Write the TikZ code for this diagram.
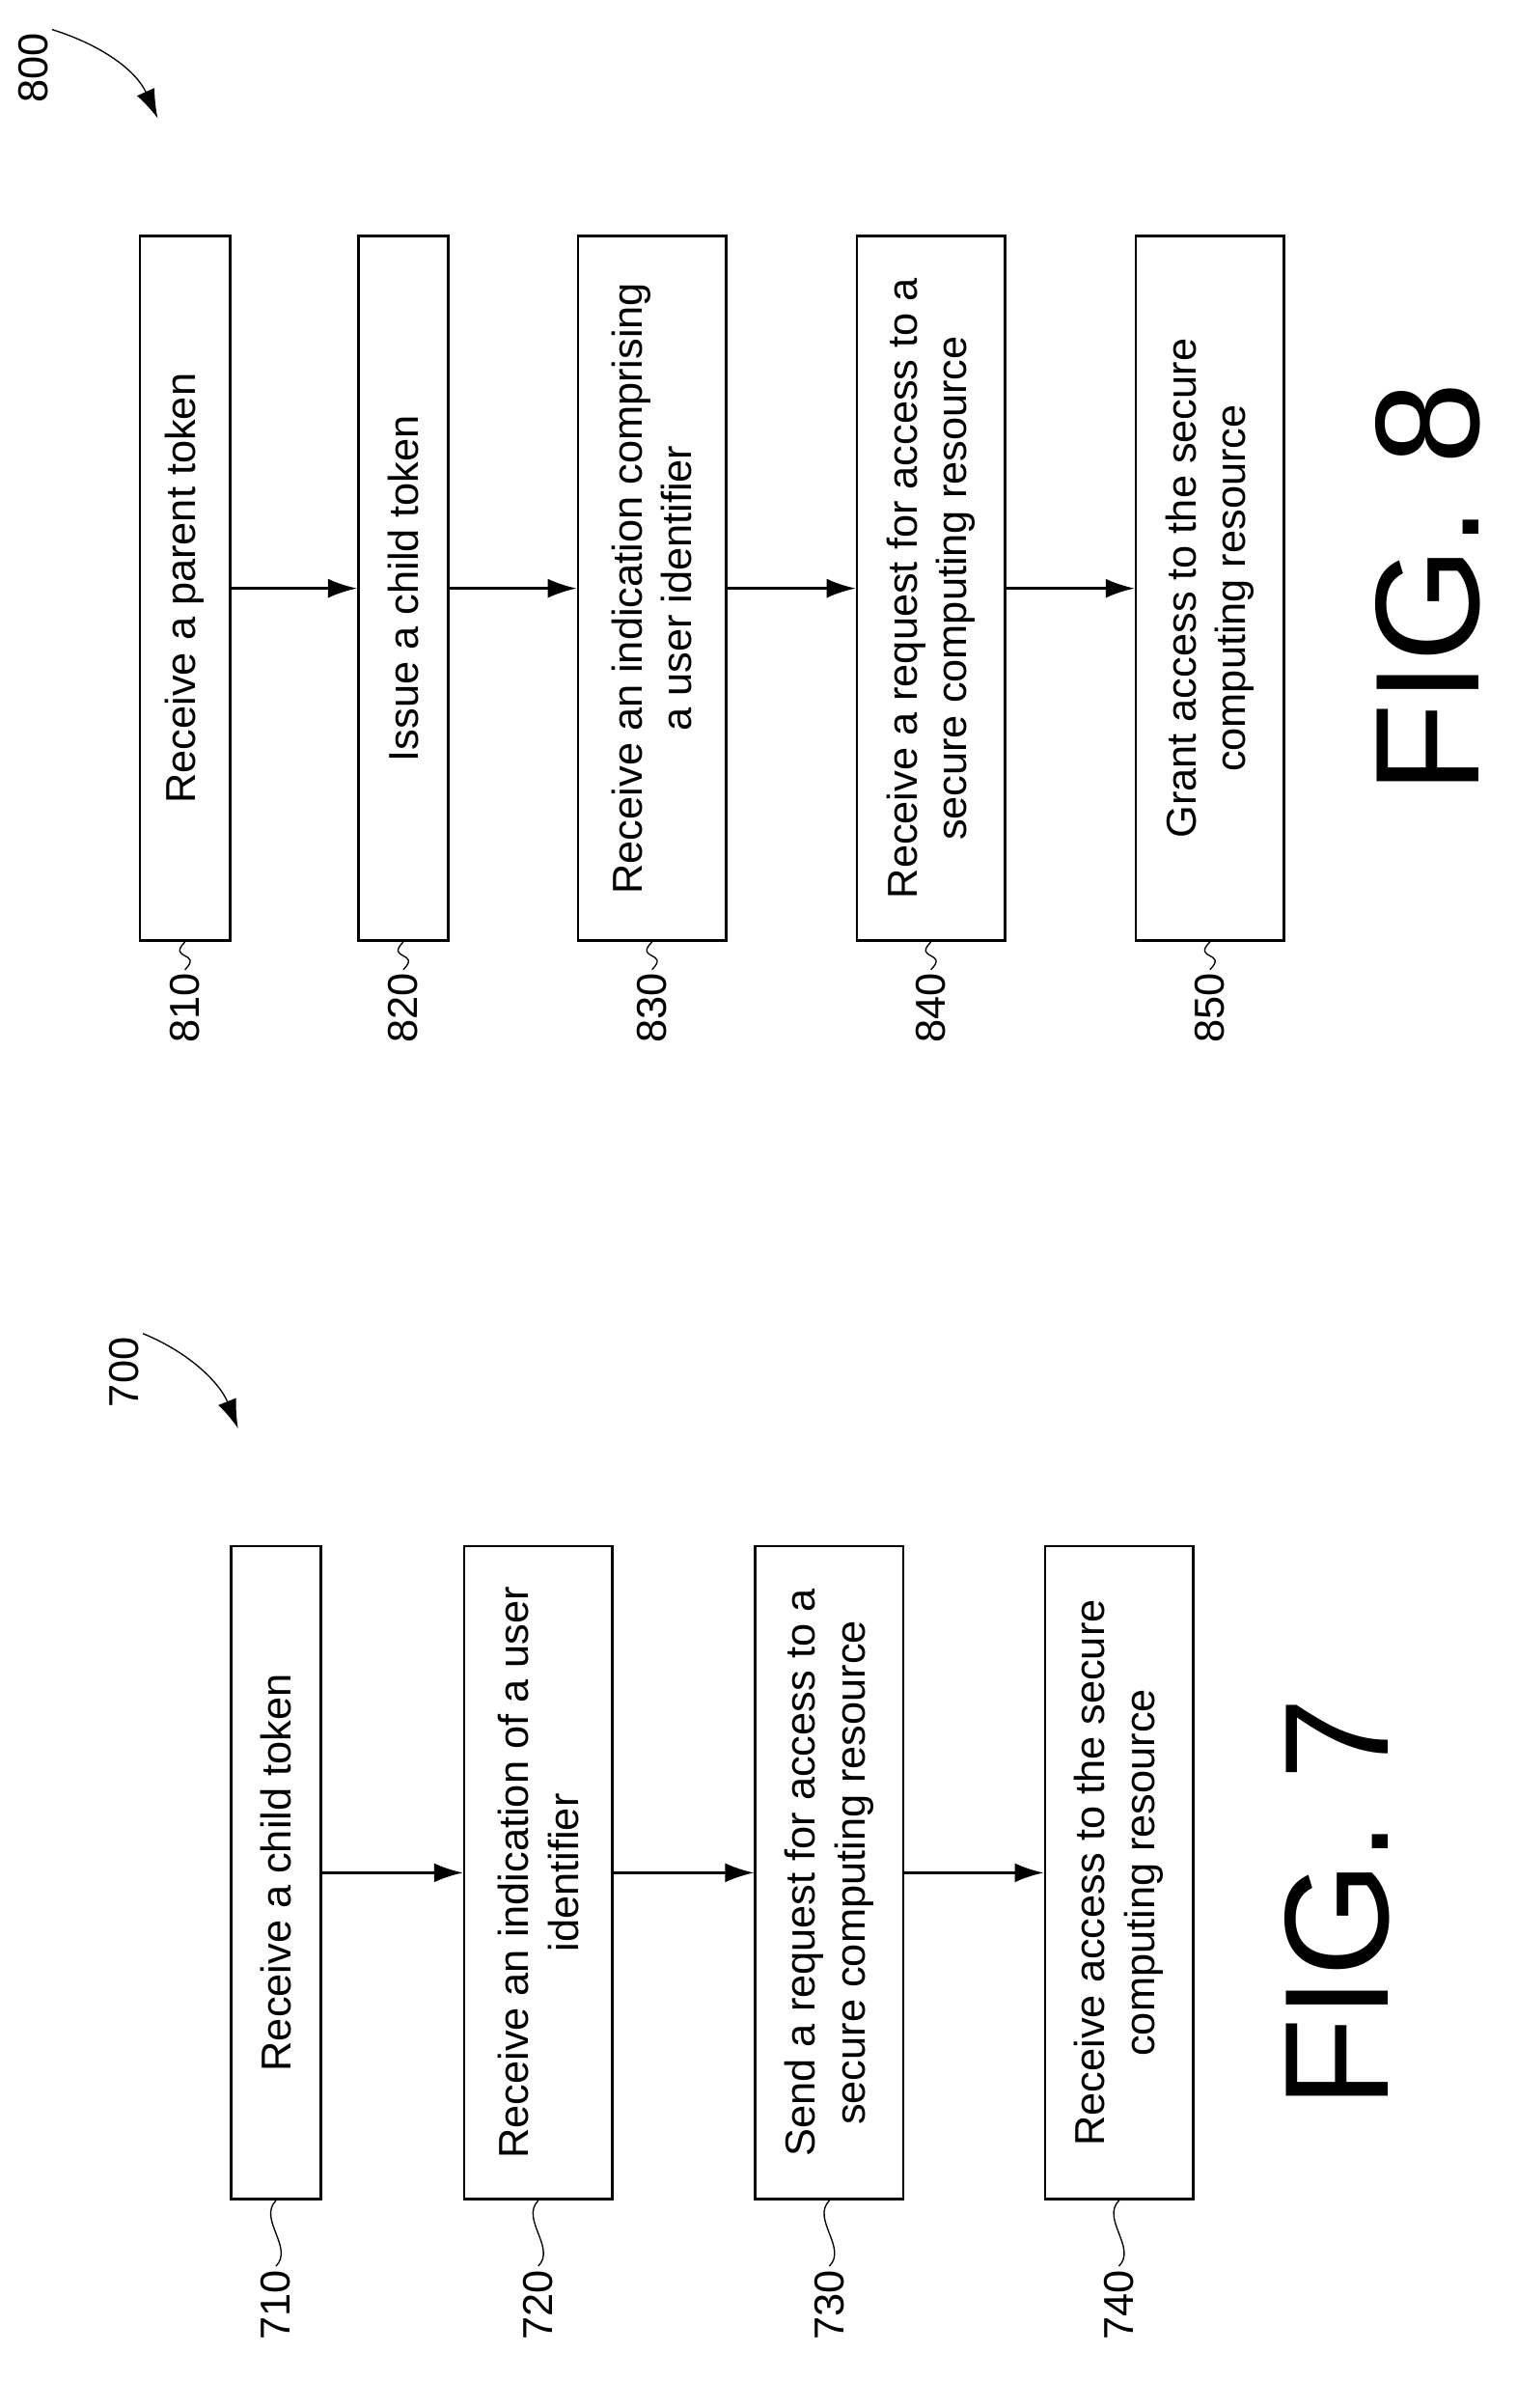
\documentclass[tikz,border=0pt]{standalone}
\usepackage{fontspec}
\setmainfont{Liberation Sans}
\usetikzlibrary{arrows.meta,positioning}
\begin{document}
\begin{tikzpicture}[
    x=0.4713pt, y=-0.4713pt,
    stepbox/.style={rectangle, draw, thick, rotate=90, align=center, font=\fontsize{13}{15.5}\selectfont, inner sep=2pt},
    ref/.style={rotate=90, font=\fontsize{13}{15.5}\selectfont, inner sep=1pt},
    arrow/.style={-{Latex[length=9pt,width=6pt]}, thick},
    wave/.style={thin},
    fig/.style={rotate=90, font=\fontsize{46}{54}\selectfont}
]
\useasboundingbox (0,0) rectangle (1000,1588);

% FIG. 7
\node[stepbox, minimum width=203pt, minimum height=28pt] (s710) at (182,1235) {Receive a child token};
\node[stepbox, minimum width=203pt, minimum height=46pt] (s720) at (355,1235) {Receive an indication of a user\\identifier};
\node[stepbox, minimum width=203pt, minimum height=46pt] (s730) at (547,1235) {Send a request for access to a\\secure computing resource};
\node[stepbox, minimum width=203pt, minimum height=46pt] (s740) at (738,1235) {Receive access to the secure\\computing resource};

\draw[arrow] (s710) -- (s720);
\draw[arrow] (s720) -- (s730);
\draw[arrow] (s730) -- (s740);

\node[ref] (r710) at (182,1520) {710};
\node[ref] (r720) at (355,1520) {720};
\node[ref] (r730) at (547,1520) {730};
\node[ref] (r740) at (738,1520) {740};
\draw[wave] (r710.east) .. controls +(12,-12) and +(-12,12) .. (s710.west);
\draw[wave] (r720.east) .. controls +(12,-12) and +(-12,12) .. (s720.west);
\draw[wave] (r730.east) .. controls +(12,-12) and +(-12,12) .. (s730.west);
\draw[wave] (r740.east) .. controls +(12,-12) and +(-12,12) .. (s740.west);

\node[ref] (r700) at (82,905) {700};
\coordinate (e700) at (157,942);
\draw[arrow, thin] (r700.south east) .. controls (125,892) and (145,912) .. (e700);
\node[fig] (fig7) at (882,1255) {FIG. 7};

% FIG. 8
\node[stepbox, minimum width=219pt, minimum height=28pt] (s810) at (122,388) {Receive a parent token};
\node[stepbox, minimum width=219pt, minimum height=28pt] (s820) at (266,388) {Issue a child token};
\node[stepbox, minimum width=219pt, minimum height=46pt] (s830) at (430,388) {Receive an indication comprising\\a user identifier};
\node[stepbox, minimum width=219pt, minimum height=46pt] (s840) at (614,388) {Receive a request for access to a\\secure computing resource};
\node[stepbox, minimum width=219pt, minimum height=46pt] (s850) at (798,388) {Grant access to the secure\\computing resource};

\draw[arrow] (s810) -- (s820);
\draw[arrow] (s820) -- (s830);
\draw[arrow] (s830) -- (s840);
\draw[arrow] (s840) -- (s850);

\node[ref] (r810) at (122,665) {810};
\node[ref] (r820) at (266,665) {820};
\node[ref] (r830) at (430,665) {830};
\node[ref] (r840) at (614,665) {840};
\node[ref] (r850) at (798,665) {850};
\draw[wave] (r810.east) .. controls +(12,-12) and +(-12,12) .. (s810.west);
\draw[wave] (r820.east) .. controls +(12,-12) and +(-12,12) .. (s820.west);
\draw[wave] (r830.east) .. controls +(12,-12) and +(-12,12) .. (s830.west);
\draw[wave] (r840.east) .. controls +(12,-12) and +(-12,12) .. (s840.west);
\draw[wave] (r850.east) .. controls +(12,-12) and +(-12,12) .. (s850.west);

\node[ref] (r800) at (22,45) {800};
\coordinate (e800) at (104,78);
\draw[arrow, thin] (r800.south east) .. controls (68,30) and (90,47) .. (e800);
\node[fig] (fig8) at (942,388) {FIG. 8};
\end{tikzpicture}
\end{document}
